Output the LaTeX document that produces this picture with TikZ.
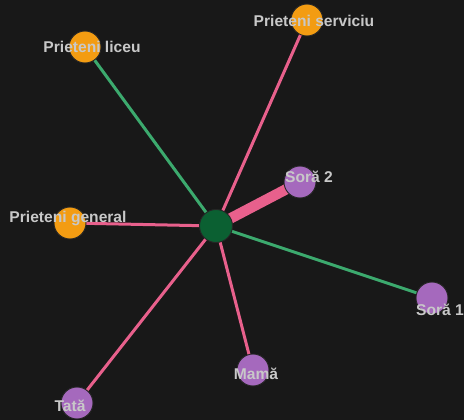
\documentclass[tikz,border=0pt]{standalone}
\usepackage{fontspec}
\setmainfont{Liberation Sans}
\definecolor{bgc}{RGB}{24,24,24}
\definecolor{orc}{RGB}{243,156,18}
\definecolor{puc}{RGB}{165,105,189}
\definecolor{cec}{RGB}{11,96,50}
\definecolor{txc}{RGB}{200,200,200}
\definecolor{pkc}{RGB}{232,96,140}
\definecolor{grc}{RGB}{60,170,110}
\begin{document}
\begin{tikzpicture}[x=1pt,y=-1pt,
  nd/.style={circle,draw=black!85,line width=0.9pt,minimum size=32pt,inner sep=0pt},
  orangen/.style={nd,fill=orc},
  purplen/.style={nd,fill=puc},
  centern/.style={nd,fill=cec,minimum size=33pt},
  lbl/.style={font=\bfseries\fontsize{15.6}{15.6}\selectfont,text=txc,inner sep=0pt},
  pinke/.style={draw=pkc,line width=3pt},
  greene/.style={draw=grc,line width=3pt}]
\fill[bgc] (0,0) rectangle (464,420);
\useasboundingbox (0,0) rectangle (464,420);
\coordinate (c) at (216,226);
\coordinate (liceu) at (85,47);
\coordinate (serv) at (307,20);
\coordinate (s2) at (300,182);
\coordinate (gen) at (70,223);
\coordinate (s1) at (432,298);
\coordinate (mama) at (253,370);
\coordinate (tata) at (77,403);
\draw[greene] (c) -- (liceu);
\draw[pinke] (c) -- (serv);
\draw[pinke,line width=10.5pt] (c) -- (s2);
\draw[pinke] (c) -- (gen);
\draw[greene] (c) -- (s1);
\draw[pinke] (c) -- (mama);
\draw[pinke] (c) -- (tata);
\node[centern] (nc) at (c) {};
\node[orangen] (nliceu) at (liceu) {};
\node[orangen] (nserv) at (serv) {};
\node[purplen] (ns2) at (s2) {};
\node[orangen] (ngen) at (gen) {};
\node[purplen] (ns1) at (s1) {};
\node[purplen] (nmama) at (mama) {};
\node[purplen] (ntata) at (tata) {};
\node[lbl] (lliceu) at (92,47) {Prieteni liceu};
\node[lbl] (lserv) at (314,21) {Prieteni serviciu};
\node[lbl] (ls2) at (309,177) {Soră 2};
\node[lbl] (lgen) at (68,219) {Prieteni general};
\node[lbl] (ls1) at (440,310) {Soră 1};
\node[lbl] (lmama) at (256,374) {Mamă};
\node[lbl] (ltata) at (70,406) {Tată};
\end{tikzpicture}
\end{document}
